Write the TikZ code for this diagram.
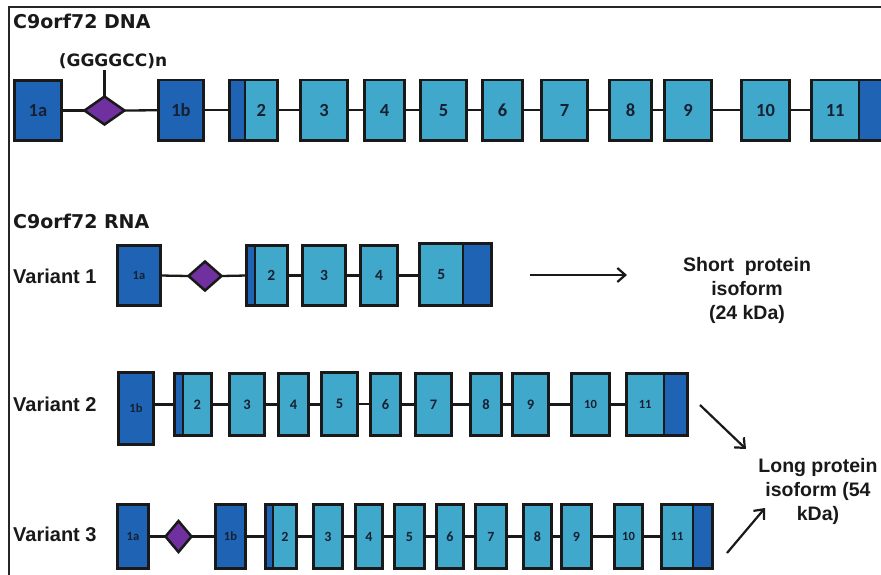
\documentclass[tikz,border=0pt]{standalone}
\usepackage{fontspec}
\setmainfont{Liberation Sans}
\newfontfamily\dvfont{DejaVu Sans}
\newfontfamily\cbfont{Carlito}
\usetikzlibrary{shapes.geometric,arrows.meta}
\definecolor{exdark}{RGB}{31,100,180}
\definecolor{exlight}{RGB}{64,168,202}
\definecolor{expurple}{RGB}{112,48,160}
\definecolor{exlabel}{RGB}{22,32,50}
% #1 name, #2 x1, #3 x2, #4 y1, #5 y2 (outer edges), #6 style, #7 label
\newcommand\exon[7]{\node[exonbox,#6,minimum width={(#3-#2-2.8)*1pt},minimum height={(#5-#4-2.8)*1pt}] (#1) at ({(#2+#3)/2},{(#4+#5)/2}) {#7};}
\newcommand\conn[2]{\draw[conn] (#1.east) -- (#1.east -| #2.west);}
\begin{document}
\begin{tikzpicture}[x=1pt,y=-1pt,
  exonbox/.style={rectangle,draw=black!90,line width=2.8pt,inner sep=0pt,outer sep=0pt,text=exlabel},
  dk/.style={fill=exdark},
  lt/.style={fill=exlight},
  dia/.style={diamond,draw=black!90,line width=2.5pt,fill=expurple,inner sep=0pt,outer sep=0pt},
  conn/.style={line width=2.3pt,draw=black!90},
  arr/.style={line width=2.2pt,draw=black!90,-{Straight Barb[length=8pt,width=14pt]}},
  frameline/.style={line width=1.8pt,draw=black!85},
  titletext/.style={font=\dvfont\bfseries\fontsize{19}{23}\selectfont,inner sep=0pt,anchor=base west,text=black!90},
  vartext/.style={font=\bfseries\fontsize{20}{24}\selectfont,inner sep=0pt,anchor=base west,text=black!90},
  sidetext/.style={font=\bfseries\fontsize{19.5}{24}\selectfont,align=center,inner sep=0pt,text=black!90},
  dnal/.style={font=\cbfont\bfseries\fontsize{18.5}{18.5}\selectfont},
  vonel/.style={font=\cbfont\bfseries\fontsize{15.5}{15.5}\selectfont},
  vtwol/.style={font=\cbfont\bfseries\fontsize{14.5}{14.5}\selectfont},
  vthreel/.style={font=\cbfont\bfseries\fontsize{14}{14}\selectfont},
  smalll/.style={font=\cbfont\bfseries\fontsize{12.5}{12.5}\selectfont}
]
\useasboundingbox (0,0) rectangle (881,574);
\fill[white] (0,0) rectangle (881,574);
\draw[frameline] (9,590) -- (9,7) -- (900,7);

% ---------- DNA ----------
\node[titletext] (tdna) at (13,28) {C9orf72 DNA};
\begin{scope}[every node/.append style={dnal}]
\exon{d1a}{13}{63}{79}{142}{dk}{1a}
\node[dia,minimum width=40,minimum height=28] (ddia) at (104.5,110.5) {};
\exon{d1b}{157}{205}{78.5}{142}{dk}{1b}
\exon{d2d}{228}{246.4}{78.5}{142}{dk}{}
\exon{d2}{243.6}{279}{78.5}{142}{lt}{2}
\exon{d3}{299}{349}{78.5}{142}{lt}{3}
\exon{d4}{363}{406}{78.5}{142}{lt}{4}
\exon{d5}{419}{468}{78.5}{142}{lt}{5}
\exon{d6}{481}{524}{78.5}{142}{lt}{6}
\exon{d7}{540}{589}{78.5}{142}{lt}{7}
\exon{d8}{608}{653}{78.5}{142}{lt}{8}
\exon{d9}{663}{713}{78.5}{142}{lt}{9}
\exon{d10}{740}{791}{78.5}{142}{lt}{10}
\exon{d11}{810}{860.4}{78.5}{142}{lt}{11}
\exon{d11d}{857.6}{905}{78.5}{142}{dk}{}
\end{scope}
\coordinate (gtop) at (104.5,70);
\draw[conn] (ddia.north) -- (gtop);
\node[font=\dvfont\bfseries\fontsize{17}{17}\selectfont,inner sep=0pt,anchor=base,text=black!90] (gg) at (113,66) {(GGGGCC)n};
\draw[conn] (d1a.east) -- (ddia.west);
\draw[conn] (ddia.east) -- (d1b.west);
\conn{d1b}{d2d}
\conn{d2}{d3}\conn{d3}{d4}\conn{d4}{d5}\conn{d5}{d6}\conn{d6}{d7}
\conn{d7}{d8}\conn{d8}{d9}\conn{d9}{d10}\conn{d10}{d11}

% ---------- RNA ----------
\node[titletext] (trna) at (13,228) {C9orf72 RNA};

% Variant 1
\node[vartext] (var1) at (13,283) {Variant 1};
\begin{scope}[every node/.append style={vonel}]
\exon{a1a}{116}{162}{244}{307}{dk,smalll}{1a}
\node[dia,minimum width=33,minimum height=29] (adia) at (205,276) {};
\exon{a2d}{245}{256.4}{244}{307}{dk}{}
\exon{a2}{253.6}{289}{244}{307}{lt}{2}
\exon{a3}{301}{347}{244}{307}{lt}{3}
\exon{a4}{359}{399}{244}{307}{lt}{4}
\exon{a5}{418}{464.4}{242}{307}{lt}{5}
\exon{a5d}{461.6}{493}{242}{307}{dk}{}
\end{scope}
\draw[conn] (a1a.east) -- (adia.west);
\draw[conn] (adia.east) -- (a2d.west);
\conn{a2}{a3}\conn{a3}{a4}\conn{a4}{a5}

% Variant 2
\node[vartext] (var2) at (13,411) {Variant 2};
\begin{scope}[every node/.append style={vtwol}]
\exon{b1b}{117}{155}{371}{446}{dk,smalll}{1b}
\exon{b2d}{173}{184.4}{372}{437}{dk}{}
\exon{b2}{181.6}{213}{372}{437}{lt}{2}
\exon{b3}{228}{266}{372}{437}{lt}{3}
\exon{b4}{277}{310}{372}{437}{lt}{4}
\exon{b5}{320}{359}{371}{437}{lt}{5}
\exon{b6}{369}{402}{372}{437}{lt}{6}
\exon{b7}{414}{453}{372}{437}{lt}{7}
\exon{b8}{469}{503}{372}{437}{lt}{8}
\exon{b9}{511}{550}{372}{437}{lt}{9}
\exon{b10}{570}{611}{372}{437}{lt,smalll}{10}
\exon{b11}{625}{665.4}{372}{437}{lt,smalll}{11}
\exon{b11d}{662.6}{689}{372}{437}{dk}{}
\end{scope}
\draw[conn] (b2d.west -| b1b.east) -- (b2d.west);
\conn{b2}{b3}\conn{b3}{b4}\conn{b4}{b5}\conn{b5}{b6}\conn{b6}{b7}
\conn{b7}{b8}\conn{b8}{b9}\conn{b9}{b10}\conn{b10}{b11}

% Variant 3
\node[vartext] (var3) at (13,541) {Variant 3};
\begin{scope}[every node/.append style={vthreel}]
\exon{c1a}{116}{150}{503}{570}{dk,smalll}{1a}
\node[dia,minimum width=26,minimum height=31] (cdia) at (178.5,536.5) {};
\exon{c1b}{214}{247}{503}{570}{dk,smalll}{1b}
\exon{c2d}{264}{274.4}{503}{570}{dk}{}
\exon{c2}{271.6}{298}{503}{570}{lt}{2}
\exon{c3}{312}{344}{503}{570}{lt}{3}
\exon{c4}{354}{384}{503}{570}{lt}{4}
\exon{c5}{393}{426}{503}{570}{lt}{5}
\exon{c6}{435}{465}{503}{570}{lt}{6}
\exon{c7}{474}{508}{503}{570}{lt}{7}
\exon{c8}{522}{553}{503}{570}{lt}{8}
\exon{c9}{560}{593}{503}{570}{lt}{9}
\exon{c10}{613}{644}{503}{570}{lt,smalll}{10}
\exon{c11}{660}{694.4}{503}{570}{lt,smalll}{11}
\exon{c11d}{691.6}{714}{503}{570}{dk}{}
\end{scope}
\draw[conn] (c1a.east) -- (cdia.west);
\draw[conn] (cdia.east) -- (c1b.west);
\conn{c1b}{c2d}
\conn{c2}{c3}\conn{c3}{c4}\conn{c4}{c5}\conn{c5}{c6}\conn{c6}{c7}
\conn{c7}{c8}\conn{c8}{c9}\conn{c9}{c10}\conn{c10}{c11}

% ---------- products ----------
\node[sidetext] (short) at (747,290) {Short\ \ protein\\isoform\\(24 kDa)};
\node[sidetext] (long) at (818,491) {Long protein\\isoform (54\\kDa)};
\coordinate (a1s) at (530,275);
\coordinate (a1e) at (627,275);
\coordinate (a2s) at (700,405);
\coordinate (a2e) at (746,449);
\coordinate (a3s) at (727,553);
\coordinate (a3e) at (765,508);
\draw[arr] (a1s) -- (a1e);
\draw[arr] (a2s) -- (a2e);
\draw[arr] (a3s) -- (a3e);
\end{tikzpicture}
\end{document}
